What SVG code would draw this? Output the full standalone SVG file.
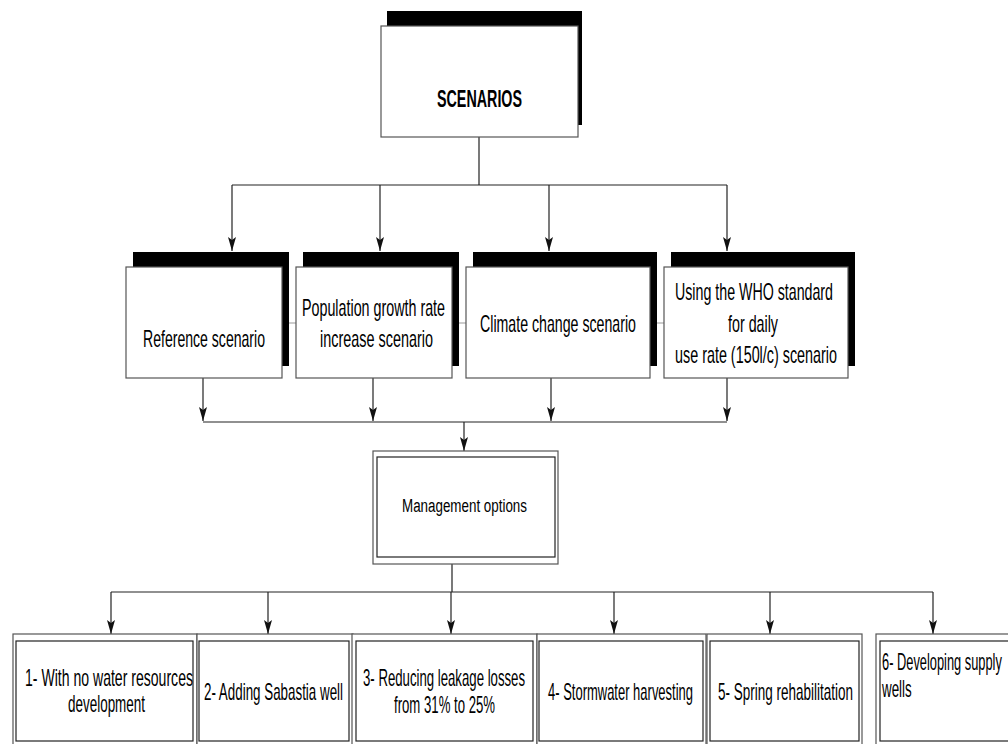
<svg xmlns="http://www.w3.org/2000/svg" width="1008" height="744" viewBox="0 0 1008 744">
<defs>
<style>
.sh{fill:#000}
.box{fill:#fff;stroke:#555;stroke-width:1.2}
.out{fill:#fff;stroke:#555;stroke-width:1.2}
.in{fill:none;stroke:#222;stroke-width:1.2}
.ln{fill:none;stroke:#222;stroke-width:1.2}
.gl{fill:none;stroke:#999;stroke-width:1}
text{font-family:"Liberation Sans",Arial,sans-serif;font-size:23px;fill:#000}
.c{text-anchor:middle}
.b{font-weight:bold}
.m{font-size:19px}
</style>
<marker id="ar" markerWidth="14" markerHeight="8" refX="14" refY="4" orient="auto" markerUnits="userSpaceOnUse">
<path d="M0,0 L14,4 L0,8 L3,4 Z" fill="#111"/>
</marker>
</defs>
<rect width="1008" height="744" fill="#fff"/>

<g id="connectors">
<line class="gl" x1="282" y1="323" x2="296" y2="323"/>
<line class="gl" x1="452" y1="323" x2="466" y2="323"/>
<line class="gl" x1="650" y1="323" x2="664" y2="323"/>
<path class="ln" d="M479,137 V185 M232,185 H727"/>
<line class="ln" x1="232" y1="185" x2="232" y2="251" marker-end="url(#ar)"/>
<line class="ln" x1="380" y1="185" x2="380" y2="251" marker-end="url(#ar)"/>
<line class="ln" x1="549" y1="185" x2="549" y2="251" marker-end="url(#ar)"/>
<line class="ln" x1="727" y1="185" x2="727" y2="251" marker-end="url(#ar)"/>
<line class="ln" x1="203" y1="378" x2="203" y2="421" marker-end="url(#ar)"/>
<line class="ln" x1="373" y1="378" x2="373" y2="421" marker-end="url(#ar)"/>
<line class="ln" x1="551" y1="378" x2="551" y2="421" marker-end="url(#ar)"/>
<line class="ln" x1="727" y1="378" x2="727" y2="421" marker-end="url(#ar)"/>
<path class="ln" d="M203,422 H727"/>
<line class="ln" x1="464" y1="422" x2="464" y2="451" marker-end="url(#ar)"/>
<path class="ln" d="M452,564 V592 M111,592 H933"/>
<line class="ln" x1="111" y1="592" x2="111" y2="634" marker-end="url(#ar)"/>
<line class="ln" x1="268" y1="592" x2="268" y2="634" marker-end="url(#ar)"/>
<line class="ln" x1="451" y1="592" x2="451" y2="634" marker-end="url(#ar)"/>
<line class="ln" x1="614" y1="592" x2="614" y2="634" marker-end="url(#ar)"/>
<line class="ln" x1="770" y1="592" x2="770" y2="634" marker-end="url(#ar)"/>
<line class="ln" x1="933" y1="592" x2="933" y2="634" marker-end="url(#ar)"/>
</g>

<g id="scenarios">
<rect class="sh" x="387" y="11" width="195" height="114"/>
<rect class="box" x="381" y="26" width="197" height="111"/>
<text class="c b" transform="translate(479.5,107) scale(0.66,1)" textLength="128.8" lengthAdjust="spacingAndGlyphs">SCENARIOS</text>
</g>

<g id="reference">
<rect class="sh" x="133" y="252" width="156" height="114"/>
<rect class="box" x="126" y="267" width="156" height="111"/>
<text class="c" transform="translate(204,347) scale(0.66,1)" textLength="184.8" lengthAdjust="spacingAndGlyphs">Reference scenario</text>
</g>

<g id="population">
<rect class="sh" x="303" y="252" width="156" height="114"/>
<rect class="box" x="296" y="267" width="156" height="111"/>
<text class="c" transform="translate(373.5,316) scale(0.66,1)" textLength="216.7" lengthAdjust="spacingAndGlyphs">Population growth rate</text>
<text class="c" transform="translate(376.5,347) scale(0.66,1)" textLength="171.2" lengthAdjust="spacingAndGlyphs">increase scenario</text>
</g>

<g id="climate">
<rect class="sh" x="473" y="252" width="184" height="114"/>
<rect class="box" x="466" y="267" width="184" height="111"/>
<text class="c" transform="translate(558,332) scale(0.66,1)" textLength="236.4" lengthAdjust="spacingAndGlyphs">Climate change scenario</text>
</g>

<g id="who">
<rect class="sh" x="671" y="252" width="184" height="114"/>
<rect class="box" x="664" y="267" width="184" height="111"/>
<text class="c" transform="translate(754,300) scale(0.66,1)" textLength="239.4" lengthAdjust="spacingAndGlyphs">Using the WHO standard</text>
<text class="c" transform="translate(753,332) scale(0.66,1)" textLength="75.8" lengthAdjust="spacingAndGlyphs">for daily</text>
<text class="c" transform="translate(756,363) scale(0.66,1)" textLength="245.5" lengthAdjust="spacingAndGlyphs">use rate (150l/c) scenario</text>
</g>

<g id="management">
<rect class="out" x="373" y="451" width="185" height="113"/>
<rect class="in" x="377" y="457" width="178" height="100"/>
<text class="c m" transform="translate(464.5,512) scale(0.66,1)" textLength="189.4" lengthAdjust="spacingAndGlyphs">Management options</text>
</g>

<g id="opt1">
<rect class="out" x="13" y="634" width="184" height="112"/>
<rect class="in" x="16" y="641" width="177" height="100"/>
<text class="c" transform="translate(109,686) scale(0.66,1)" textLength="254.5" lengthAdjust="spacingAndGlyphs">1- With no water resources</text>
<text class="c" transform="translate(106.5,712) scale(0.66,1)" textLength="116.7" lengthAdjust="spacingAndGlyphs">development</text>
</g>

<g id="opt2">
<rect class="out" x="197" y="634" width="156" height="112"/>
<rect class="in" x="199" y="641" width="150" height="100"/>
<text class="c" transform="translate(273.5,700) scale(0.66,1)" textLength="210.6" lengthAdjust="spacingAndGlyphs">2- Adding Sabastia well</text>
</g>

<g id="opt3">
<rect class="out" x="352" y="634" width="185" height="112"/>
<rect class="in" x="356" y="641" width="177" height="100"/>
<text class="c" transform="translate(444,686) scale(0.66,1)" textLength="245.5" lengthAdjust="spacingAndGlyphs">3- Reducing leakage losses</text>
<text class="c" transform="translate(444.5,713) scale(0.66,1)" textLength="153" lengthAdjust="spacingAndGlyphs">from 31% to 25%</text>
</g>

<g id="opt4">
<rect class="out" x="537" y="634" width="169" height="112"/>
<rect class="in" x="539" y="641" width="164" height="100"/>
<text class="c" transform="translate(620.5,700) scale(0.66,1)" textLength="219.7" lengthAdjust="spacingAndGlyphs">4- Stormwater harvesting</text>
</g>

<g id="opt5">
<rect class="out" x="707" y="634" width="155" height="112"/>
<rect class="in" x="710" y="641" width="149" height="100"/>
<text class="c" transform="translate(785.5,700) scale(0.66,1)" textLength="204.5" lengthAdjust="spacingAndGlyphs">5- Spring rehabilitation</text>
</g>

<g id="opt6">
<rect class="out" x="876" y="634" width="150" height="112"/>
<rect class="in" x="880" y="641" width="140" height="100"/>
<text transform="translate(882,670) scale(0.56,1)" textLength="214" lengthAdjust="spacingAndGlyphs">6- Developing supply</text>
<text transform="translate(882,697) scale(0.56,1)" textLength="53" lengthAdjust="spacingAndGlyphs">wells</text>
</g>
</svg>
